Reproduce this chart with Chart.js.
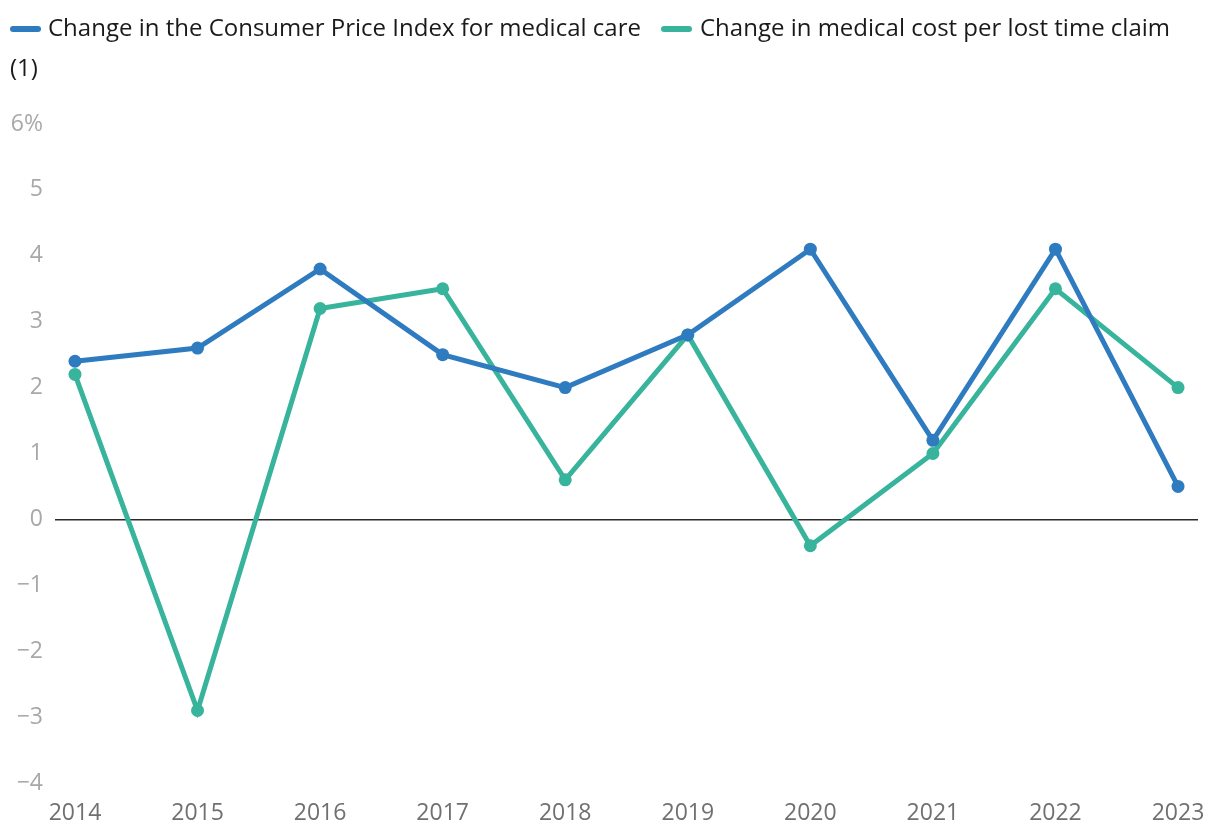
<!DOCTYPE html>
<html>
<head>
<meta charset="utf-8">
<script src="https://cdn.jsdelivr.net/npm/chart.js@4.4.0/dist/chart.umd.min.js"></script>
<style>
  html, body { margin: 0; padding: 0; background: #fff; }
  #wrap { position: relative; width: 1220px; height: 840px; }
  canvas { position: absolute; left: 0; top: 0; }
  .leg { position: absolute; font-family: "Open Sans", "Noto Sans", sans-serif; font-size: 24px; color: #1a1a1a; white-space: nowrap; line-height: 1; }
  .mk { position: absolute; height: 6px; border-radius: 3px; }
</style>
</head>
<body>
<div id="wrap">
  <canvas id="c" width="1220" height="840"></canvas>
  <div class="mk" id="mk1" style="left:10px; top:26px; width:31px;"></div>
  <div class="leg" style="left:48px; top:15px;">Change in the Consumer Price Index for medical care</div>
  <div class="mk" id="mk2" style="left:661px; top:26px; width:31px;"></div>
  <div class="leg" style="left:700px; top:15px;">Change in medical cost per lost time claim</div>
  <div class="leg" style="left:10px; top:55px;">(1)</div>
</div>
<script>
const years = [2014, 2015, 2016, 2017, 2018, 2019, 2020, 2021, 2022, 2023];
const cpiMedical = [2.4, 2.6, 3.8, 2.5, 2.0, 2.8, 4.1, 1.2, 4.1, 0.5];
const costPerClaim = [2.2, -2.9, 3.2, 3.5, 0.6, 2.8, -0.4, 1.0, 3.5, 2.0];
const yTicks = [6, 5, 4, 3, 2, 1, 0, -1, -2, -3, -4];

const blue = '#2F7BC0';
const teal = '#38B49C';
document.getElementById('mk1').style.background = blue;
document.getElementById('mk2').style.background = teal;

const toPts = arr => years.map((y, i) => ({ x: y, y: arr[i] }));

new Chart(document.getElementById('c'), {
  type: 'line',
  data: {
    datasets: [
      { label: 'Change in the Consumer Price Index for medical care', data: toPts(cpiMedical),
        borderColor: blue, backgroundColor: blue, borderWidth: 5, pointRadius: 6.5, pointBorderWidth: 0, tension: 0 },
      { label: 'Change in medical cost per lost time claim', data: toPts(costPerClaim),
        borderColor: teal, backgroundColor: teal, borderWidth: 5, pointRadius: 6.5, pointBorderWidth: 0, tension: 0 }
    ]
  },
  options: {
    responsive: false,
    animation: false,
    layout: { padding: { top: 124, right: 22, left: 0, bottom: 0 } },
    plugins: { legend: { display: false }, tooltip: { enabled: false } },
    scales: {
      x: {
        type: 'linear',
        min: 2013.837,
        max: 2023.163,
        grid: { display: false },
        border: { display: false },
        ticks: {
          stepSize: 1,
          includeBounds: false,
          autoSkip: false,
          maxRotation: 0,
          padding: 9,
          color: '#707070',
          font: { family: 'Open Sans', size: 23 },
          callback: v => Number.isInteger(v) ? String(v) : ''
        },
        afterFit: s => { s.height = 57; }
      },
      y: {
        min: -4,
        max: 6,
        afterBuildTicks: s => { s.ticks = yTicks.map(v => ({ value: v })); },
        grid: {
          drawTicks: false,
          lineWidth: 1.5,
          color: c => (c.tick && c.tick.value === 0) ? '#2a2a2a' : 'rgba(0,0,0,0)'
        },
        border: { display: false },
        ticks: {
          padding: 12,
          color: '#A8A8A8',
          font: { family: 'Open Sans', size: 23 },
          callback: v => v === 6 ? '6%' : (v < 0 ? '\u2212' + Math.abs(v) : String(v))
        },
        afterFit: s => { s.width = 55; }
      }
    }
  }
});
</script>
</body>
</html>
